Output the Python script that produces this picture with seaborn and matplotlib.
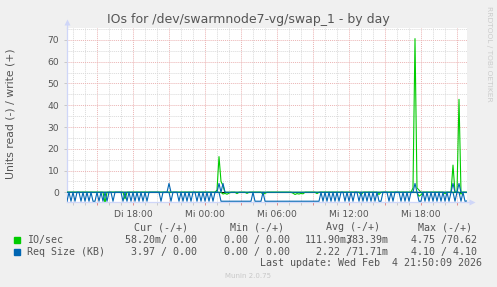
import numpy as np
import pandas as pd
import matplotlib
matplotlib.use("Agg")
import matplotlib.pyplot as plt
import seaborn as sns
from matplotlib.patches import Rectangle

# ---------------- data ----------------
# 10-minute samples, hours relative to Wed 00:00 (Tue 12:30 .. Wed 21:50)
start_hour = -11.5
step_hours = 1 / 6
n_samples = 201

# Req Size (KB), read side (drawn negative)
reqsize_read_kb = [
    4.1, 0, 4.1, 0, 4.1, 0, 0, 4.1, 0, 4.1,
    0, 4.1, 0, 4.1, 4.1, 0, 4.1, 0, 4.1, 0,
    4.1, 0, 0, 4.1, 0, 0, 0, 0, 4.1, 0,
    4.1, 0, 4.1, 0, 4.1, 0, 4.1, 0, 4.1, 0,
    4.1, 0, 0, 0, 0, 0, 0, 4.1, 0, 0,
    0, 0, 4.1, 0, 0, 0, 4.1, 0, 4.1, 0,
    4.1, 0, 4.1, 0, 0, 4.1, 0, 4.1, 0, 4.1,
    0, 4.1, 0, 4.1, 0, 0, 0, 4.1, 4.1, 4.1,
    4.1, 4.1, 4.1, 4.1, 4.1, 4.1, 4.1, 4.1, 4.1, 4.1,
    4.1, 4.1, 4.1, 0, 4.1, 4.1, 4.1, 4.1, 0, 4.1,
    4.1, 4.1, 4.1, 4.1, 4.1, 4.1, 4.1, 4.1, 4.1, 4.1,
    4.1, 4.1, 4.1, 4.1, 4.1, 4.1, 4.1, 4.1, 4.1, 4.1,
    4.1, 4.1, 4.1, 4.1, 4.1, 4.1, 4.1, 0, 4.1, 0,
    4.1, 0, 4.1, 0, 4.1, 0, 4.1, 0, 0, 4.1,
    0, 4.1, 0, 4.1, 0, 0, 4.1, 0, 4.1, 0,
    4.1, 0, 4.1, 0, 4.1, 0, 4.1, 4.1, 0, 0,
    0, 4.1, 0, 4.1, 0, 0, 0, 4.1, 0, 4.1,
    0, 4.1, 0, 0, 0, 0, 4.1, 4.1, 0, 4.1,
    0, 4.1, 0, 4.1, 0, 4.1, 0, 4.1, 0, 4.1,
    0, 4.1, 0, 0, 4.1, 0, 0, 4.1, 0, 4.1,
    3.97,
]
# Req Size (KB), write side: sample index -> value
reqsize_write_idx = [51, 76, 78, 174, 193, 196]
reqsize_write_val = [4.1, 4.1, 4.1, 4.1, 4.1, 4.1]
# IO/sec, write side
io_write_idx = [51, 75, 76, 77, 78, 173, 174, 175, 176, 193, 196]
io_write_val = [0.05, 1.0, 16.4, 5.0, 3.0, 2.0, 70.62, 2.0, 1.0, 12.5, 42.7]
# IO/sec, read side (drawn negative)
io_read_idx = [19, 29, 78, 79, 80, 81, 85, 90, 98, 99, 113, 114, 115, 116,
               117, 118, 125, 147, 156, 176, 177, 189, 197, 200]
io_read_val = [4.75, 3.0, 0.8, 0.5, 0.9, 0.4, 0.6, 0.5, 0.9, 0.5, 0.4, 1.0,
               0.6, 0.8, 0.5, 0.7, 0.6, 1.2, 1.0, 1.8, 1.2, 0.6, 0.8, 0.058]

x_label_hours = [-6, 0, 6, 12, 18]
x_labels = ["Di 18:00", "Mi 00:00", "Mi 06:00", "Mi 12:00", "Mi 18:00"]
y_ticks = [0, 10, 20, 30, 40, 50, 60, 70]

title = "IOs for /dev/swarmnode7-vg/swap_1 - by day"
y_title = "Units read (-) / write (+)"
legend_names = ["IO/sec", "Req Size (KB)"]
legend_colors = ["#00CC00", "#0066B3"]
col_headers = ["Cur (-/+)", "Min (-/+)", "Avg (-/+)", "Max (-/+)"]
row_cur = ["58.20m/ 0.00", "3.97 / 0.00"]
row_min = ["0.00 / 0.00", "0.00 / 0.00"]
row_avg = ["111.90m383.39m", "2.22 /71.71m"]
row_max = ["4.75 /70.62", "4.10 / 4.10"]
last_update = "Last update: Wed Feb  4 21:50:09 2026"
munin_version = "Munin 2.0.75"
watermark = "RRDTOOL / TOBI OETIKER"

# ---------------- build frame ----------------
hours = start_hour + np.arange(n_samples) * step_hours
rs_w = np.zeros(n_samples); rs_w[reqsize_write_idx] = reqsize_write_val
io_w = np.zeros(n_samples); io_w[io_write_idx] = io_write_val
io_r = np.zeros(n_samples); io_r[io_read_idx] = io_read_val
df = pd.DataFrame({
    "hour": hours,
    "io_read": -io_r,
    "io_write": io_w,
    "rs_read": -np.array(reqsize_read_kb),
    "rs_write": rs_w,
})

# ---------------- figure ----------------
W, H = 497, 287
fig = plt.figure(figsize=(W / 100, H / 100), dpi=100, facecolor="#F0F0F0")
ax = fig.add_axes([67 / W, 1 - 202 / H, 400 / W, 174 / H])
ax.set_facecolor("white")

ax.set_xlim(hours[0], hours[-1])
ax.set_ylim(-4.46, 75.5)

major_x = np.arange(-9, 22, 3)
ax.set_xticks(major_x)
ax.set_xticklabels([x_labels[x_label_hours.index(h)] if h in x_label_hours else ""
                    for h in major_x])
ax.set_xticks(np.arange(-11, 22, 1), minor=True)
ax.set_yticks(y_ticks)
ax.set_yticks(np.arange(0, 76, 5), minor=True)

ax.grid(True, which="minor", color="#DADADA", linestyle=(0, (1, 1)), linewidth=0.7)
ax.grid(True, which="major", color="#EBB3B3", linestyle=(0, (1, 1)), linewidth=0.7)
ax.set_axisbelow(True)

txt = "#555555"
ax.tick_params(axis="x", which="major", length=2, width=0.7, color="#E08A8A",
               pad=3.5, labelsize=6.6, labelcolor=txt)
ax.tick_params(axis="x", which="minor", length=2, width=0.7, color="#C8C8C8")
ax.tick_params(axis="y", which="major", length=2, width=0.7, color="#C8C8C8",
               pad=3.5, labelsize=6.6, labelcolor=txt)
ax.tick_params(axis="y", which="minor", length=0)

for s in ["top", "right"]:
    ax.spines[s].set_visible(False)
for s in ["left", "bottom"]:
    ax.spines[s].set_color("#CFD6F8")
    ax.spines[s].set_linewidth(0.9)

ax.axhline(0, color="black", linewidth=0.8, zorder=2)

sns.lineplot(data=df, x="hour", y="io_read", color="#00CC00", linewidth=0.8, ax=ax, zorder=3)
sns.lineplot(data=df, x="hour", y="io_write", color="#00CC00", linewidth=0.8, ax=ax, zorder=3)
sns.lineplot(data=df, x="hour", y="rs_read", color="#0066B3", linewidth=0.8, ax=ax, zorder=4)
sns.lineplot(data=df, x="hour", y="rs_write", color="#0066B3", linewidth=0.8, ax=ax, zorder=4)
ax.set_xlabel("")
ax.set_ylabel("")

# axis arrows
ax.plot([0, 0], [1, 1.03], transform=ax.transAxes, clip_on=False, color="#CFD6F8", lw=0.9)
ax.plot([0], [1.035], marker="^", ms=4, transform=ax.transAxes, clip_on=False,
        color="#CFD6F8", mec="none")
ax.plot([1, 1.01], [0, 0], transform=ax.transAxes, clip_on=False, color="#CFD6F8", lw=0.9)
ax.plot([1.012], [0], marker=">", ms=4, transform=ax.transAxes, clip_on=False,
        color="#CFD6F8", mec="none")

def fx(px):
    return px / W

def fy(py):
    return 1 - py / H

fig.text(fx(248), fy(19.5), title, ha="center", va="center", fontsize=9, color=txt)
fig.text(fx(10.7), fy(114), y_title, rotation=90, ha="center", va="center",
         fontsize=7.8, color=txt)
fig.text(fx(488.5), fy(53.5), watermark, rotation=270, ha="center", va="center",
         fontsize=5.4, color="#CCCCCC")

mono = dict(family="DejaVu Sans Mono", fontsize=7.2, color=txt, va="center")
header_right = [187.5, 284.5, 380.5, 472]
for hdr, xr in zip(col_headers, header_right):
    fig.text(fx(xr), fy(227.5), hdr, ha="right", **mono)

row_y = [240, 252]
for k in range(2):
    fig.patches.append(Rectangle((fx(14), fy(row_y[k] + 3)), 6 / W, 6 / H,
                                 transform=fig.transFigure, color=legend_colors[k]))
    fig.text(fx(26.7), fy(row_y[k]), legend_names[k], ha="left", **mono)
    fig.text(fx(196.7), fy(row_y[k]), row_cur[k], ha="right", **mono)
    fig.text(fx(290), fy(row_y[k]), row_min[k], ha="right", **mono)
    fig.text(fx(388.3), fy(row_y[k]), row_avg[k], ha="right", **mono)
    fig.text(fx(476.7), fy(row_y[k]), row_max[k], ha="right", **mono)
# overlapping slash in the first avg cell (as printed by rrdtool)
fig.text(fx(388.3 - 6.5 * 6.02), fy(row_y[0]), "/", ha="center", **mono)

fig.text(fx(482), fy(263.3), last_update, ha="right", **mono)
fig.text(fx(248), fy(276), munin_version, ha="center", va="center",
         fontsize=5, color="#C8C8C8")

fig.savefig("out.png", dpi=100, facecolor=fig.get_facecolor())
